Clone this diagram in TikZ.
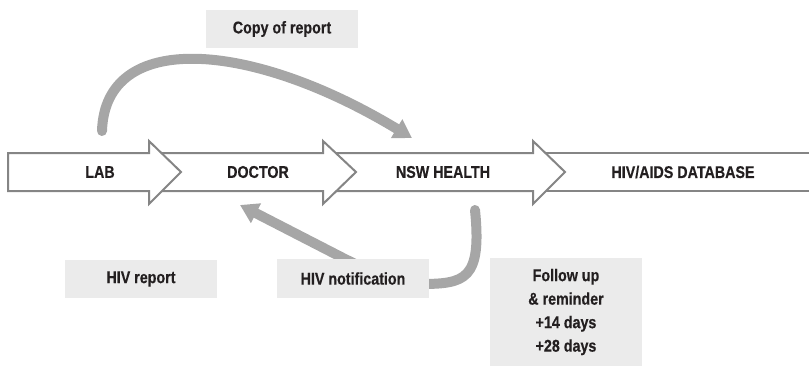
\documentclass[tikz,border=0pt]{standalone}
\usepackage{fontspec}
\setmainfont{Liberation Sans}[FakeStretch=0.84, UprightFont={* Bold}, BoldFont={* Bold}, FakeBold=0.4]
\usetikzlibrary{arrows.meta}
\definecolor{outl}{HTML}{858585}
\definecolor{flow}{HTML}{A6A6A6}
\definecolor{boxbg}{HTML}{EBEBEB}
\definecolor{txt}{HTML}{231F20}
\tikzset{
  blockfill/.style={fill=white},
  blockline/.style={draw=outl, line width=2pt, line join=miter},
  lbl/.style={text=txt, font=\fontsize{17}{19}\selectfont, inner sep=0pt},
  graybox/.style={fill=boxbg, text=txt, font=\fontsize{17}{23.5}\selectfont, align=center, inner sep=0pt},
  flowarrow/.style={draw=flow, line width=10pt, line cap=round, -{Triangle[length=18pt,width=21pt]}},
}
\begin{document}
\begin{tikzpicture}[x=1pt, y=-1pt]
\useasboundingbox (0,0) rectangle (809,367);
% block arrows, drawn right to left so each head sits on top
% arrow 4 (open right end)
\fill[blockfill] (540,153) rectangle (812,191);
\draw[blockline] (540,153) -- (812,153);
\draw[blockline] (540,191) -- (812,191);
% arrow 3
\fill[blockfill] (330,153) -- (533,153) -- (533,141) -- (565,172) -- (533,204) -- (533,191) -- (330,191) -- cycle;
\draw[blockline] (330,153) -- (533,153) -- (533,141) -- (565,172) -- (533,204) -- (533,191) -- (330,191);
% arrow 2
\fill[blockfill] (155,153) -- (323,153) -- (323,141) -- (356,172) -- (323,204) -- (323,191) -- (155,191) -- cycle;
\draw[blockline] (155,153) -- (323,153) -- (323,141) -- (356,172) -- (323,204) -- (323,191) -- (155,191);
% arrow 1
\draw[blockline, blockfill] (8,153) -- (149,153) -- (149,141) -- (181,172) -- (149,204) -- (149,191) -- (8,191) -- cycle;

\node[lbl] (lab) at (100,172) {LAB};
\node[lbl] (doctor) at (258,172) {DOCTOR};
\node[lbl] (nsw) at (443,172) {NSW HEALTH};
\node[lbl] (db) at (683,172) {HIV/AIDS DATABASE};

% connectors
\coordinate (copyStart) at (102,131);
\coordinate (copyEnd) at (412,138);
\draw[flowarrow] (copyStart) .. controls (105,30) and (250,40) .. (copyEnd);

\coordinate (notifStart) at (475,210);
\coordinate (notifMid) at (420,284);
\coordinate (notifBend) at (345,259);
\coordinate (notifEnd) at (240,205);
\draw[flowarrow] (notifStart) .. controls (482,280) and (465,284) .. (notifMid)
   .. controls (390,284) and (370,271) .. (notifBend) -- (notifEnd);

% gray label boxes
\node[graybox, minimum width=152pt, minimum height=38pt] (copy) at (282,29) {Copy of report};
\node[graybox, minimum width=152pt, minimum height=38pt] (hivrep) at (141,279) {HIV report};
\node[graybox, minimum width=152pt, minimum height=39pt] (hivnot) at (353,278.5) {HIV notification};
\node[graybox, minimum width=152pt, minimum height=108pt] (follow) at (566,312) {Follow up\\ \& reminder\\ +14 days\\ +28 days};
\end{tikzpicture}
\end{document}
